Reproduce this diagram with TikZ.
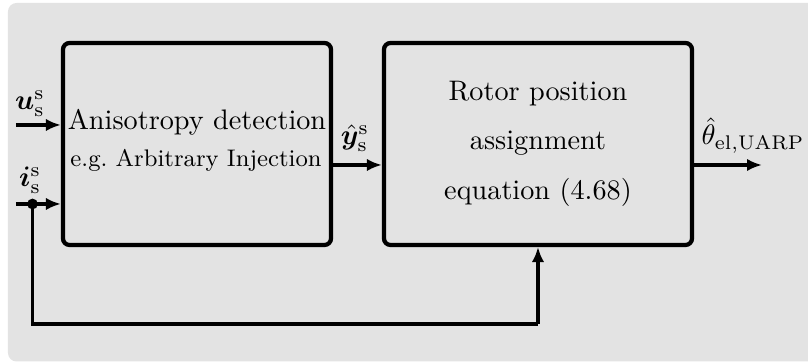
\documentclass[tikz,border=0pt]{standalone}
\usepackage{amsmath,bm}
\usetikzlibrary{arrows.meta}
\definecolor{bggray}{RGB}{227,227,227}
\tikzset{
  blockbox/.style={draw=black, line width=1.5pt, rounded corners=2.3pt, fill=bggray, inner sep=0pt},
  conn/.style={line width=1.15pt, -{Latex[length=5.3pt,width=4.4pt]}},
  plain/.style={line width=1.15pt},
  txt/.style={anchor=base, inner sep=0pt, font=\normalsize},
}
\begin{document}
\begin{tikzpicture}[x=0.354pt,y=-0.354pt]
\useasboundingbox (0,0) rectangle (808,363);
\begin{scope}
\clip (0,0) rectangle (808,363);
\fill[bggray, rounded corners=3pt] (8,3) rectangle (840,361.5);
\end{scope}
% blocks
\node[blockbox, minimum width=268*0.354pt, minimum height=202*0.354pt] (b1) at (197,144) {};
\node[blockbox, minimum width=308*0.354pt, minimum height=202*0.354pt] (b2) at (538,144) {};
% block texts
\node[txt] (t1a) at (197,130) {Anisotropy detection};
\node[txt, font=\fontsize{8.5pt}{10pt}\selectfont] (t1b) at (196,167) {e.g.\ Arbitrary Injection};
\node[txt] (t2a) at (538,101) {Rotor position};
\node[txt] (t2b) at (538,150) {assignment};
\node[txt] (t2c) at (538,200) {equation (4.68)};
% coordinates
\coordinate (uin) at (16,125);
\coordinate (iin) at (16,204);
\coordinate (dot) at (32.5,204);
\coordinate (fbl) at (32.5,324);
\coordinate (fbr) at (538,324);
\coordinate (out) at (762,165);
% connectors
\draw[conn] (uin) -- (b1.west |- uin);
\draw[conn] (iin) -- (b1.west |- iin);
\draw[conn] (b1.east |- out) -- (b2.west |- out);
\draw[conn] (b2.east |- out) -- (out);
\draw[plain] (dot) -- (fbl) -- (fbr);
\draw[conn] (fbr) -- (b2.south);
\fill (dot) circle (1.9pt);
% labels
\node[txt] (lu) at (30,110) {$\bm{u}_{\mathrm{s}}^{\mathrm{s}}$};
\node[txt] (li) at (30,187) {$\bm{i}_{\mathrm{s}}^{\mathrm{s}}$};
\node[txt] (ly) at (355,145) {$\hat{\bm{y}}_{\mathrm{s}}^{\mathrm{s}}$};
\node[txt] (lt) at (753,145) {$\hat{\theta}_{\mathrm{el,UARP}}$};
\end{tikzpicture}
\end{document}
